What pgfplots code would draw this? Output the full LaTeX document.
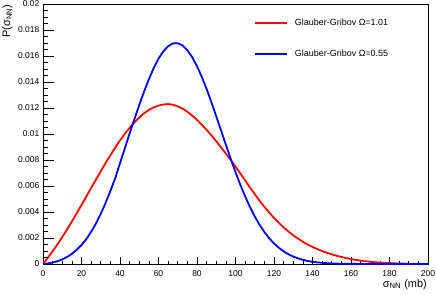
\documentclass[border=0pt]{standalone}
\usepackage{fontspec}
\setmainfont{Liberation Sans}
\usepackage{pgfplots}
\pgfplotsset{compat=1.18}
\begin{document}
\begin{tikzpicture}
\pgfplotsset{
  rootbase/.style={
    at={(0,0)}, anchor=south west,
    scale only axis, width=385bp, height=260bp,
    xmin=0, xmax=200, ymin=0, ymax=0.02,
    xtick={0,20,40,60,80,100,120,140,160,180,200},
    ytick={0,0.002,0.004,0.006,0.008,0.01,0.012,0.014,0.016,0.018,0.02},
    minor x tick num=3, minor y tick num=3,
    tick align=inside, xtick pos=left, ytick pos=left,
    scaled y ticks=false,
  }
}
\begin{axis}[rootbase,
  major tick length=7bp, minor tick length=3.5bp,
  ytick style={draw=none}, minor y tick style={draw=none},
  xtick style={black, line width=0.6bp},
  axis line style={black, line width=0.8bp},
  xticklabels={0,20,40,60,80,100,120,140,160,180,200},
  yticklabels={0,0.002,0.004,0.006,0.008,0.01,0.012,0.014,0.016,0.018,0.02},
  xticklabel style={font=\fontsize{8.5}{10}\selectfont, inner sep=0pt, anchor=north, yshift=-6bp},
  yticklabel style={font=\fontsize{8.5}{10}\selectfont, inner sep=0pt, anchor=east, xshift=-3.5bp},
  xlabel={σ\textsubscript{NN} (mb)},
  ylabel={P(σ\textsubscript{NN})},
  xlabel style={at={(axis description cs:0.9974,-0.0577)}, anchor=north east, inner sep=0pt, font=\fontsize{11}{12}\selectfont},
  ylabel style={at={(axis description cs:-0.1065,0.999)}, anchor=north east, inner sep=0pt, font=\fontsize{11}{12}\selectfont},
  legend style={at={(axis description cs:0.548,0.944)}, anchor=north west, draw=none, fill=none,
    font=\fontsize{9}{10}\selectfont, inner sep=0pt, row sep=22.8bp,
    nodes={inner sep=0pt, text height=6.5bp, text depth=2bp}},
  legend cell align=left,
  legend image code/.code={\draw[#1] (0bp,0bp) -- (32bp,0bp); \path (39bp,0bp);},
]
\addplot[red, line width=1.8bp, line join=round] coordinates {
(0,0) (2.5,0.00048) (5,0.00098) (7.5,0.00151) (10,0.00207) (12.5,0.00266) (15,0.00327) (17.5,0.00390)
(20,0.00454) (22.5,0.00519) (25,0.00584) (27.5,0.00649) (30,0.00713) (32.5,0.00776) (35,0.00837) (37.5,0.00895)
(40,0.00950) (42.5,0.01001) (45,0.01048) (47.5,0.01090) (50,0.01127) (52.5,0.01159) (55,0.01185) (57.5,0.01205)
(60,0.01219) (62.5,0.01227) (65,0.01230) (67.5,0.01225) (70,0.01213) (72.5,0.01195) (75,0.01171) (77.5,0.01142)
(80,0.01109) (82.5,0.01072) (85,0.01032) (87.5,0.00989) (90,0.00944) (92.5,0.00897) (95,0.00849) (97.5,0.00800)
(100,0.00749) (102.5,0.00697) (105,0.00643) (107.5,0.00589) (110,0.00537) (112.5,0.00487) (115,0.00440) (117.5,0.00396)
(120,0.00355) (122.5,0.00317) (125,0.00282) (127.5,0.00250) (130,0.00221) (132.5,0.00195) (135,0.00171) (137.5,0.00150)
(140,0.00131) (145,0.00099) (150,0.00074) (155,0.00054) (160,0.00038) (165,0.00026) (170,0.00017) (175,0.00011)
(180,0.00007) (185,0.00004) (190,0.00002) (195,0.00001) (200,0.000005)
};
\addlegendentry{Glauber-Gribov Ω=1.01}
\addplot[blue, line width=1.8bp, line join=round] coordinates {
(0,0) (2.5,0.00004) (5,0.00011) (7.5,0.00021) (10,0.00035) (12.5,0.00054) (15,0.00078) (17.5,0.00109)
(20,0.00146) (22.5,0.00191) (25,0.00247) (27.5,0.00311) (30,0.00386) (32.5,0.00469) (35,0.00562) (37.5,0.00660)
(40,0.00775) (42.5,0.00890) (45,0.01005) (47.5,0.01115) (50,0.01223) (52.5,0.01326) (55,0.01421) (57.5,0.01507)
(60,0.01579) (62.5,0.01636) (65,0.01675) (67.5,0.01697) (70,0.01698) (72.5,0.01681) (75,0.01645) (77.5,0.01591)
(80,0.01522) (82.5,0.01439) (85,0.01346) (87.5,0.01244) (90,0.01136) (92.5,0.01027) (95,0.00917) (97.5,0.00810)
(100,0.00707) (102.5,0.00610) (105,0.00521) (107.5,0.00439) (110,0.00366) (112.5,0.00302) (115,0.00246) (117.5,0.00198)
(120,0.00158) (122.5,0.00125) (125,0.00097) (127.5,0.00075) (130,0.00057) (132.5,0.00043) (135,0.00032) (137.5,0.00023)
(140,0.00017) (145,0.00009) (150,0.00004) (155,0.00002) (160,0.00001) (170,0.000001) (200,0)
};
\addlegendentry{Glauber-Gribov Ω=0.55}
\end{axis}
\begin{axis}[rootbase,
  major tick length=11bp, minor tick length=5.5bp,
  xtick=\empty, minor x tick num=0,
  ytick style={black, line width=0.6bp},
  yticklabel style={opacity=0},
  axis line style={draw=none},
]
\end{axis}
\pgfresetboundingbox
\path[use as bounding box] (-43bp,-31bp) rectangle (393bp,264bp);
\end{tikzpicture}
\end{document}
